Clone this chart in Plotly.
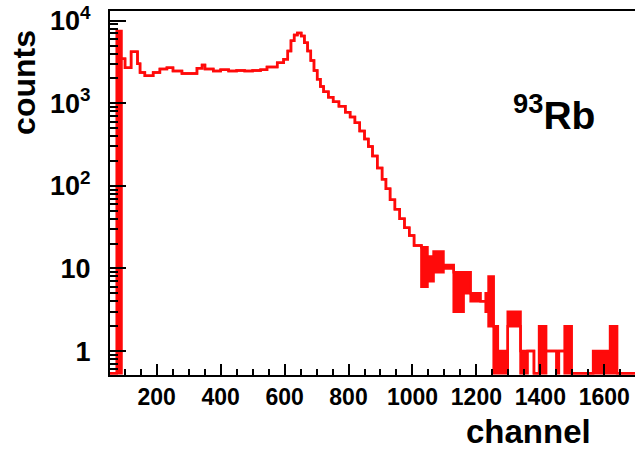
import numpy as np
import plotly.graph_objects as go

# ---- data (histogram of 93Rb, counts per channel bin) ----
bin_starts = [50, 75, 90, 101, 120, 140, 148, 163, 189, 210, 232, 251, 279, 326, 342, 351,
              377, 400, 425, 450, 475, 500, 525, 545, 577, 597, 610, 620, 630, 640, 652,
              662, 672, 682, 692, 702, 712, 722, 737, 752, 770, 790, 805, 820, 835, 850,
              862, 875, 890, 905, 917, 930, 945, 960, 975, 990, 1005, 1028, 1047, 1066,
              1097, 1129, 1160, 1182, 1213, 1229, 1238, 1254, 1267, 1298, 1338, 1360,
              1380, 1396, 1418, 1450, 1458, 1476, 1498, 1565, 1597, 1618, 1640]
bin_end = 1720
# upper envelope of the (rapidly fluctuating) histogram within each bin
counts_high = [0, 7500, 3450, 2700, 4200, 3000, 2350, 2150, 2350, 2600, 2700, 2450, 2300, 2650, 2900, 2600,
               2450, 2550, 2450, 2500, 2450, 2500, 2550, 2750, 3100, 3400, 4300, 5700, 6700, 7100, 6500,
               5400, 4300, 3300, 2500, 1950, 1600, 1380, 1180, 1040, 920, 780, 680, 580, 460, 370,
               300, 230, 165, 120, 92, 68, 52, 40, 31, 25, 19, 18, 14, 16,
               11, 9, 9, 5, 4, 5, 8, 2, 1, 3, 1, 1,
               0, 2, 1, 1, 1, 2, 0, 1, 1, 2, 0]
# lower envelope within each bin
counts_low = [0, 0, 3450, 2700, 4200, 3000, 2350, 2150, 2350, 2600, 2700, 2450, 2300, 2650, 2900, 2600,
              2450, 2550, 2450, 2500, 2450, 2500, 2550, 2750, 3100, 3400, 4300, 5700, 6700, 7100, 6500,
              5400, 4300, 3300, 2500, 1950, 1600, 1380, 1180, 1040, 920, 780, 680, 580, 460, 370,
              300, 230, 165, 120, 92, 68, 52, 40, 31, 25, 19, 6, 7, 9,
              10, 3, 5, 4, 4, 3, 2, 0, 0, 2, 0, 1,
              0, 0, 1, 0, 1, 0, 0, 0, 0, 0, 0]

x_tick_vals = [200, 400, 600, 800, 1000, 1200, 1400, 1600]
y_tick_vals = [1, 10, 100, 1000, 10000]
y_tick_text = ["1", "10", "10<sup>2</sup>", "10<sup>3</sup>", "10<sup>4</sup>"]

x_range = [54, 1696]
y_range_log = [-0.29, 4.117]
y_floor = 0.54  # zero-count bins are drawn along the bottom edge (log scale)

RED = "#ff0a0a"
FONT = "Liberation Sans"

xs = list(bin_starts) + [bin_end]
hi = np.maximum(np.array(counts_high + [counts_high[-1]], dtype=float), y_floor)
lo = np.maximum(np.array(counts_low + [counts_low[-1]], dtype=float), y_floor)

fig = go.Figure()
fig.add_trace(go.Scatter(x=xs, y=lo, mode="lines", line=dict(color=RED, width=2.5, shape="hv"),
                         hoverinfo="skip", showlegend=False))
fig.add_trace(go.Scatter(x=xs, y=hi, mode="lines", line=dict(color=RED, width=2.5, shape="hv"),
                         fill="tonexty", fillcolor=RED, showlegend=False))

minor_y = [m * 10.0 ** d for d in range(-1, 5) for m in range(2, 10)]
minor_y = [v for v in minor_y if 10 ** y_range_log[0] < v < 10 ** y_range_log[1]]

fig.update_xaxes(
    range=x_range, showline=True, linecolor="black", linewidth=2, mirror=True,
    ticks="inside", ticklen=11, tickwidth=1.5, tickcolor="black",
    tickvals=x_tick_vals, ticktext=[str(v) for v in x_tick_vals],
    tickfont=dict(family=FONT, size=23, color="black", weight="bold"),
    minor=dict(ticks="inside", ticklen=6, tickwidth=1.5, tickcolor="black", dtick=50, tick0=0, showgrid=False),
    showgrid=False, zeroline=False, ticklabelstandoff=0,
)
fig.update_yaxes(
    type="log", range=y_range_log, showline=True, linecolor="black", linewidth=2, mirror=False,
    ticks="inside", ticklen=16, tickwidth=1.5, tickcolor="black",
    tickvals=y_tick_vals, ticktext=y_tick_text,
    tickfont=dict(family=FONT, size=27, color="black", weight="bold"),
    minor=dict(ticks="inside", ticklen=8, tickwidth=1.5, tickcolor="black", tickvals=minor_y, showgrid=False),
    showgrid=False, zeroline=False, ticklabelstandoff=12,
)

fig.add_annotation(text="<b>counts</b>", xref="paper", yref="paper", x=-0.164, y=0.805,
                   textangle=-90, showarrow=False, xanchor="center", yanchor="middle",
                   font=dict(family=FONT, size=32, color="black"))
fig.add_annotation(text="<b>channel</b>", xref="paper", yref="paper", x=0.798, y=-0.154,
                   showarrow=False, xanchor="center", yanchor="middle",
                   font=dict(family=FONT, size=33, color="black"))
fig.add_annotation(text="<b><sup>93</sup>Rb</b>", xref="paper", yref="paper", x=0.846, y=0.72,
                   showarrow=False, xanchor="center", yanchor="middle",
                   font=dict(family=FONT, size=39, color="black"))

fig.update_layout(
    width=635, height=451, margin=dict(l=110, r=0, t=11, b=76),
    plot_bgcolor="white", paper_bgcolor="white",
)

fig.write_html("out.html")
